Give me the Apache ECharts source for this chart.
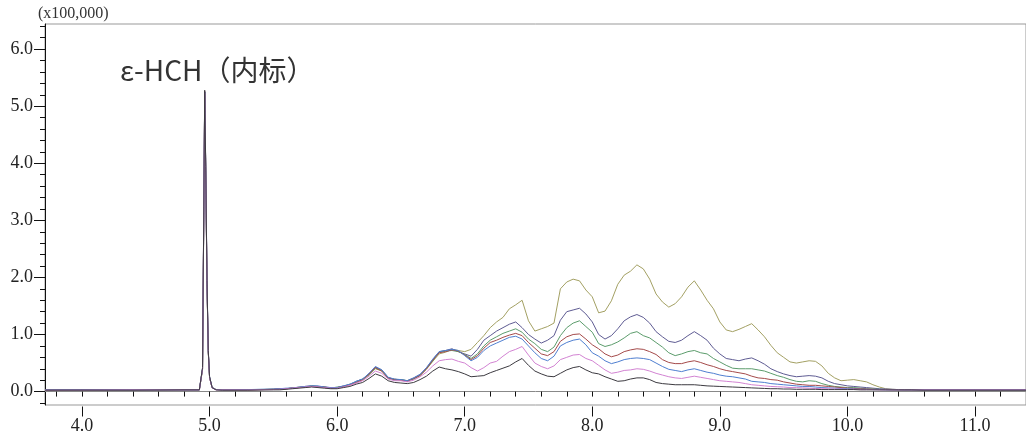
<!DOCTYPE html>
<html>
<head>
<meta charset="utf-8">
<script src="https://cdn.jsdelivr.net/npm/echarts@6/dist/echarts.min.js"></script>
<style>html,body{margin:0;padding:0;background:#fff;}#c{width:1026px;height:435px;}</style>
</head>
<body>
<div id="c"></div>
<script>
// retention time (min)
const times = [3.71,4.00,4.40,4.80,4.92,4.935,4.945,4.955,4.962,4.97,4.98,4.99,5.00,5.02,5.05,5.10,5.30,5.50,
5.55,5.60,5.65,5.70,5.75,5.80,5.85,5.90,5.95,6.00,
6.05,6.10,6.15,6.20,6.25,6.30,6.35,6.40,6.45,6.50,
6.55,6.60,6.65,6.70,6.75,6.80,6.85,6.90,6.95,7.00,
7.05,7.10,7.15,7.20,7.25,7.30,7.35,7.40,7.45,7.50,
7.55,7.60,7.65,7.70,7.75,7.80,7.85,7.90,7.95,8.00,
8.05,8.10,8.15,8.20,8.25,8.30,8.35,8.40,8.45,8.50,
8.55,8.60,8.65,8.70,8.75,8.80,8.85,8.90,8.95,9.00,
9.05,9.10,9.15,9.20,9.25,9.30,9.35,9.40,9.45,9.50,
9.55,9.60,9.65,9.70,9.75,9.80,9.85,9.90,9.95,10.00,
10.05,10.10,10.15,10.20,10.25,10.30,10.35,10.40,10.45,10.50,
10.60,10.80,11.00,11.20,11.40];

// intensities (x100,000)
const olive = [0.03,0.03,0.03,0.03,0.03,0.04,0.38,3.1,5.22,3.85,1.85,0.68,0.24,0.07,0.035,0.03,0.03,0.04,
0.04,0.05,0.06,0.08,0.08,0.09,0.09,0.07,0.06,0.07,
0.08,0.12,0.16,0.20,0.29,0.40,0.36,0.23,0.22,0.20,
0.19,0.22,0.28,0.39,0.53,0.66,0.69,0.74,0.72,0.70,
0.74,0.86,0.98,1.12,1.22,1.30,1.45,1.52,1.60,1.24,
1.06,1.10,1.14,1.20,1.80,1.92,1.97,1.94,1.78,1.66,
1.38,1.41,1.59,1.88,2.04,2.11,2.22,2.15,1.97,1.71,
1.57,1.48,1.54,1.66,1.83,1.94,1.78,1.60,1.45,1.22,
1.08,1.05,1.09,1.14,1.19,1.08,0.96,0.81,0.68,0.60,
0.52,0.50,0.52,0.54,0.53,0.45,0.32,0.24,0.19,0.20,
0.21,0.19,0.17,0.12,0.08,0.05,0.04,0.035,0.03,0.03,
0.03,0.03,0.03,0.03,0.03];

const slate = [0.03,0.03,0.03,0.03,0.03,0.04,0.40,3.2,5.25,3.9,1.9,0.7,0.25,0.07,0.035,0.03,0.03,0.04,
0.05,0.05,0.07,0.07,0.09,0.10,0.09,0.08,0.07,0.07,
0.10,0.12,0.18,0.22,0.31,0.43,0.38,0.25,0.21,0.21,
0.19,0.24,0.30,0.41,0.56,0.70,0.72,0.75,0.70,0.66,
0.62,0.74,0.90,0.98,1.06,1.12,1.18,1.22,1.12,1.00,
0.92,0.85,0.90,0.98,1.25,1.40,1.43,1.46,1.36,1.22,
1.00,0.92,0.98,1.10,1.24,1.31,1.35,1.30,1.20,1.05,
0.96,0.88,0.86,0.90,0.98,1.05,0.98,0.90,0.76,0.66,
0.58,0.56,0.54,0.57,0.59,0.54,0.48,0.40,0.35,0.31,
0.28,0.26,0.27,0.28,0.27,0.24,0.18,0.14,0.12,0.10,
0.09,0.08,0.07,0.06,0.05,0.045,0.04,0.035,0.03,0.03,
0.03,0.03,0.03,0.03,0.03];

const green = [0.03,0.03,0.03,0.03,0.03,0.04,0.39,3.15,5.24,3.88,1.88,0.69,0.25,0.07,0.035,0.03,0.035,0.04,
0.04,0.05,0.06,0.07,0.08,0.10,0.09,0.08,0.06,0.08,
0.09,0.13,0.17,0.22,0.30,0.41,0.37,0.24,0.20,0.21,
0.19,0.22,0.29,0.40,0.54,0.69,0.71,0.72,0.70,0.65,
0.58,0.66,0.80,0.90,0.96,1.02,1.06,1.10,1.04,0.92,
0.84,0.74,0.70,0.78,0.98,1.12,1.20,1.24,1.14,1.04,
0.84,0.79,0.82,0.87,0.94,1.02,1.05,0.98,0.94,0.86,
0.78,0.68,0.63,0.66,0.70,0.72,0.68,0.66,0.58,0.52,
0.46,0.41,0.40,0.40,0.40,0.38,0.36,0.32,0.28,0.25,
0.21,0.18,0.17,0.19,0.18,0.14,0.11,0.09,0.08,0.07,
0.07,0.06,0.05,0.045,0.04,0.035,0.035,0.03,0.03,0.03,
0.03,0.03,0.03,0.03,0.03];

const red = [0.025,0.03,0.03,0.03,0.03,0.04,0.40,3.2,5.26,3.9,1.9,0.7,0.25,0.07,0.035,0.03,0.03,0.04,
0.05,0.05,0.06,0.07,0.09,0.09,0.09,0.08,0.06,0.07,
0.09,0.12,0.16,0.21,0.31,0.42,0.36,0.24,0.21,0.20,
0.18,0.23,0.28,0.40,0.55,0.68,0.70,0.73,0.71,0.64,
0.56,0.63,0.76,0.86,0.90,0.95,0.99,1.02,0.98,0.86,
0.76,0.66,0.63,0.70,0.88,0.96,1.00,1.01,0.92,0.82,
0.75,0.66,0.61,0.64,0.70,0.73,0.75,0.74,0.70,0.65,
0.56,0.51,0.49,0.49,0.52,0.54,0.51,0.47,0.44,0.40,
0.37,0.35,0.33,0.31,0.27,0.24,0.23,0.21,0.20,0.17,
0.15,0.13,0.12,0.11,0.11,0.10,0.09,0.08,0.07,0.06,
0.055,0.05,0.045,0.04,0.035,0.035,0.03,0.03,0.03,0.03,
0.03,0.03,0.03,0.03,0.03];

const blue = [0.03,0.03,0.03,0.03,0.03,0.04,0.41,3.22,5.25,3.92,1.92,0.71,0.26,0.07,0.035,0.03,0.035,0.045,
0.05,0.06,0.06,0.08,0.09,0.10,0.10,0.08,0.07,0.07,
0.10,0.13,0.18,0.22,0.32,0.44,0.38,0.25,0.22,0.21,
0.19,0.24,0.30,0.42,0.57,0.70,0.72,0.74,0.72,0.63,
0.54,0.60,0.72,0.80,0.85,0.90,0.95,0.97,0.92,0.80,
0.68,0.58,0.54,0.62,0.80,0.86,0.90,0.92,0.82,0.68,
0.62,0.54,0.49,0.52,0.56,0.58,0.59,0.58,0.56,0.50,
0.44,0.39,0.37,0.35,0.38,0.40,0.37,0.34,0.32,0.29,
0.27,0.26,0.24,0.22,0.18,0.17,0.16,0.14,0.13,0.12,
0.11,0.10,0.09,0.09,0.08,0.07,0.065,0.06,0.055,0.05,
0.045,0.04,0.04,0.035,0.035,0.03,0.03,0.03,0.03,0.03,
0.03,0.03,0.03,0.03,0.03];

const pink = [0.025,0.025,0.03,0.03,0.03,0.04,0.39,3.12,5.23,3.86,1.86,0.69,0.24,0.065,0.03,0.03,0.03,0.035,
0.04,0.05,0.06,0.07,0.08,0.09,0.08,0.07,0.06,0.06,
0.08,0.11,0.15,0.19,0.27,0.36,0.32,0.22,0.19,0.19,
0.17,0.20,0.26,0.34,0.45,0.54,0.56,0.57,0.53,0.50,
0.42,0.36,0.42,0.50,0.53,0.62,0.70,0.74,0.79,0.64,
0.50,0.44,0.40,0.45,0.56,0.60,0.64,0.65,0.58,0.54,
0.46,0.38,0.32,0.34,0.37,0.38,0.40,0.39,0.36,0.32,
0.29,0.26,0.24,0.23,0.25,0.27,0.25,0.23,0.21,0.19,
0.18,0.17,0.16,0.14,0.12,0.11,0.10,0.09,0.085,0.08,
0.07,0.07,0.065,0.06,0.055,0.05,0.05,0.045,0.045,0.04,
0.04,0.035,0.035,0.035,0.03,0.03,0.03,0.03,0.03,0.03,
0.03,0.03,0.03,0.03,0.03];

const black = [0.025,0.025,0.025,0.03,0.03,0.04,0.42,3.25,5.28,3.95,1.95,0.72,0.26,0.07,0.03,0.025,0.025,0.03,
0.03,0.04,0.05,0.06,0.07,0.08,0.07,0.06,0.05,0.05,
0.07,0.09,0.13,0.16,0.23,0.31,0.27,0.19,0.16,0.15,
0.14,0.16,0.21,0.27,0.36,0.43,0.40,0.38,0.35,0.31,
0.26,0.27,0.28,0.33,0.37,0.41,0.45,0.52,0.58,0.46,
0.36,0.31,0.27,0.26,0.32,0.38,0.42,0.44,0.38,0.33,
0.31,0.26,0.22,0.18,0.19,0.22,0.24,0.24,0.21,0.16,
0.14,0.13,0.12,0.12,0.12,0.12,0.11,0.10,0.095,0.09,
0.085,0.08,0.075,0.07,0.065,0.06,0.055,0.05,0.05,0.045,
0.045,0.04,0.04,0.04,0.04,0.035,0.035,0.035,0.035,0.035,
0.035,0.03,0.03,0.03,0.03,0.03,0.03,0.03,0.03,0.03,
0.025,0.025,0.025,0.025,0.025];

const seriesNames = ['olive','slate','green','red','blue','pink','black'];
const seriesValues = [olive, slate, green, red, blue, pink, black];
const seriesColors = ['#a3a063','#5e5b92','#5c9c6c','#a44a4a','#4f7fd0','#d283d2','#3c3a40'];

const xMajor = [4,5,6,7,8,9,10,11];
const yMajor = [0,1,2,3,4,5,6];
const xMinor = [];
for (let v = 3.8; v < 11.35; v += 0.2) xMinor.push(Math.round(v * 10) / 10);
const yMinor = [];
for (let v = -0.2; v < 6.45; v += 0.2) yMinor.push(Math.round(v * 10) / 10);

const chart = echarts.init(document.getElementById('c'), null, {renderer: 'canvas'});
const serifFont = '"Liberation Serif", "DejaVu Serif", serif';
const GRID_H = 382.5, GRID_W = 983;

const option = {
  animation: false,
  backgroundColor: '#fff',
  grid: {left: 45, top: 24, width: GRID_W, height: GRID_H, show: true, borderColor: '#999', borderWidth: 1, containLabel: false},
  xAxis: [{
    type: 'value', min: 3.71, max: 11.4, position: 'bottom',
    axisLine: {show: true, lineStyle: {color: '#888', width: 1}},
    axisTick: {show: true, customValues: xMinor, length: 5, lineStyle: {color: '#111'}},
    axisLabel: {show: true, customValues: xMajor, formatter: v => v.toFixed(1), margin: 12,
      fontFamily: serifFont, fontSize: 18, color: '#222'},
    splitLine: {show: false}
  }, {
    type: 'value', min: 3.71, max: 11.4, position: 'top', offset: -GRID_H,
    axisLine: {show: false},
    axisTick: {show: true, inside: true, customValues: xMajor, length: 10, lineStyle: {color: '#111'}},
    axisLabel: {show: false}, splitLine: {show: false}
  }],
  yAxis: [{
    type: 'value', min: -0.235, max: 6.44, position: 'left',
    axisLine: {show: true, lineStyle: {color: '#111', width: 1}},
    axisTick: {show: true, customValues: yMinor, length: 5, lineStyle: {color: '#111'}},
    axisLabel: {show: true, customValues: yMajor, formatter: v => v.toFixed(1), margin: 12,
      fontFamily: serifFont, fontSize: 18, color: '#222'},
    splitLine: {show: false}
  }, {
    type: 'value', min: -0.235, max: 6.44, position: 'right', offset: -GRID_W,
    axisLine: {show: false},
    axisTick: {show: true, inside: true, customValues: yMajor, length: 9, lineStyle: {color: '#111'}},
    axisLabel: {show: false}, splitLine: {show: false}
  }],
  graphic: [
    {type: 'text', left: 38, top: 6, style: {text: '(x100,000)', font: '16px ' + serifFont, fill: '#333'}},
    {type: 'text', left: 120, top: 56, style: {text: 'ε-HCH（内标）', font: '28px "Noto Sans CJK SC", "Noto Sans", sans-serif', fill: '#333'}}
  ],
  series: seriesValues.map((vals, i) => ({
    name: seriesNames[i], type: 'line', xAxisIndex: 0, yAxisIndex: 0,
    data: times.map((t, j) => [t, vals[j]]),
    showSymbol: false, symbol: 'none', smooth: false,
    lineStyle: {width: 1, color: seriesColors[i]},
    itemStyle: {color: seriesColors[i]},
    z: 2 + i
  }))
};
chart.setOption(option);
</script>
</body>
</html>
